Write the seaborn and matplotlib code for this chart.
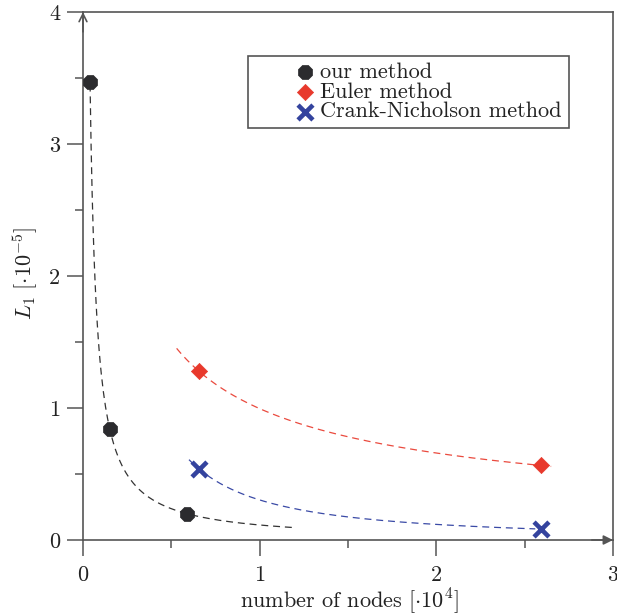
import numpy as np
import pandas as pd
import matplotlib
matplotlib.use("Agg")
import matplotlib.pyplot as plt
import seaborn as sns
from matplotlib.ticker import FixedLocator, NullFormatter

# ---- data ----
our_x = [0.04, 0.15, 0.59]
our_y = [3.47, 0.84, 0.20]
euler_x = [0.655, 2.59]
euler_y = [1.28, 0.565]
cn_x = [0.655, 2.59]
cn_y = [0.54, 0.083]
# extent of the dashed fitted trend curves
our_fit_range = [0.040, 1.2]
euler_fit_range = [0.53, 2.65]
cn_fit_range = [0.60, 2.56]
labels = ["our method", "Euler method", "Crank-Nicholson method"]
xticks = [0, 1, 2, 3]
yticks = [0, 1, 2, 3, 4]

sns.set_style("white")
plt.rcParams["font.family"] = ["cmr10", "DejaVu Serif"]
plt.rcParams["mathtext.fontset"] = "cm"
plt.rcParams["axes.formatter.use_mathtext"] = True
plt.rcParams["lines.scale_dashes"] = False

GRAY = "#555555"
C_OUR = "#2b2b2e"
C_EUL = "#e8392c"
C_CN = "#34439e"
L_OUR = "#333333"
L_EUL = "#ea4a3e"
L_CN = "#3a4aa6"
FS = 16

fig = plt.figure(figsize=(6.17, 6.15), dpi=100)
ax = fig.add_axes([83 / 617, 1 - 540 / 615, 530 / 617, 528 / 615])


def fit_curve(xs, ys, rng):
    b, a = np.polyfit(np.log(xs), np.log(ys), 1)
    xx = np.linspace(rng[0], rng[1], 200)
    return pd.DataFrame({"x": xx, "y": np.exp(a) * xx ** b})


dash = (0, (5, 3.5))
for xs, ys, rng, col in [(our_x, our_y, our_fit_range, L_OUR),
                         (euler_x, euler_y, euler_fit_range, L_EUL),
                         (cn_x, cn_y, cn_fit_range, L_CN)]:
    d = fit_curve(xs, ys, rng)
    sns.lineplot(data=d, x="x", y="y", ax=ax, color=col, lw=0.9,
                 linestyle=dash, sort=False, legend=False)

sns.scatterplot(x=our_x, y=our_y, ax=ax, marker="8", s=120, color=C_OUR,
                edgecolor=C_OUR, linewidth=0.5, label=labels[0], zorder=5)
sns.scatterplot(x=euler_x, y=euler_y, ax=ax, marker="D", s=68, color=C_EUL,
                edgecolor=C_EUL, linewidth=0.5, label=labels[1], zorder=5)
sns.scatterplot(x=cn_x, y=cn_y, ax=ax, marker="x", s=115, color=C_CN,
                linewidth=3.3, label=labels[2], zorder=5)

ax.set_xlim(0, 3)
ax.set_ylim(0, 4)
ax.set_xlabel("")
ax.set_ylabel("")

for sp in ax.spines.values():
    sp.set_visible(True)
    sp.set_color(GRAY)
    sp.set_linewidth(1.2)

ax.xaxis.set_major_locator(FixedLocator(xticks))
ax.yaxis.set_major_locator(FixedLocator(yticks))
ax.set_xticklabels([str(t) for t in xticks])
ax.set_yticklabels([str(t) for t in yticks])
ax.xaxis.set_minor_locator(FixedLocator([0.5, 1.5, 2.5]))
ax.yaxis.set_minor_locator(FixedLocator([0.5, 1.5, 2.5, 3.5]))
ax.xaxis.set_minor_formatter(NullFormatter())
ax.yaxis.set_minor_formatter(NullFormatter())
ax.tick_params(which="major", direction="out", length=11.5, width=1.1,
               color=GRAY, labelsize=FS, labelcolor="#222222",
               bottom=True, left=True, top=False, right=False)
ax.tick_params(axis="x", which="major", pad=7)
ax.tick_params(axis="y", which="major", pad=5)
ax.tick_params(which="minor", direction="out", length=5.5, width=1.1,
               color=GRAY, bottom=True, left=True, top=False, right=False)

# axis arrows
ax.annotate("", xy=(0, 4), xytext=(0, 3.85), xycoords="data",
            arrowprops=dict(arrowstyle="->", color=GRAY, lw=1.2,
                            mutation_scale=14, shrinkA=0, shrinkB=0),
            annotation_clip=False)
ax.annotate("", xy=(3, 0), xytext=(2.88, 0), xycoords="data",
            arrowprops=dict(arrowstyle="-|>", color=GRAY, lw=1.2,
                            mutation_scale=14, shrinkA=0, shrinkB=0),
            annotation_clip=False)

leg = ax.legend(loc="upper left", bbox_to_anchor=((248 - 83) / 530, (540 - 56) / 528),
                borderaxespad=0, fontsize=FS, frameon=True, fancybox=False,
                framealpha=1, edgecolor=GRAY, borderpad=0.3,
                handlelength=4.5, handletextpad=-1.55, labelspacing=0.0,
                scatterpoints=1)
leg.get_frame().set_linewidth(1.2)
for t in leg.get_texts():
    t.set_color("#222222")

fig.text(349 / 617, 1 - 601 / 615, r"number of nodes $[\cdot 10^4]$",
         ha="center", va="center", fontsize=FS, color="#222222")
fig.text(25 / 617, 1 - 273 / 615, r"$L_1\ [\cdot 10^{-5}]$",
         ha="center", va="center", rotation=90, fontsize=FS, color="#222222")

fig.savefig("out.png", dpi=100)
